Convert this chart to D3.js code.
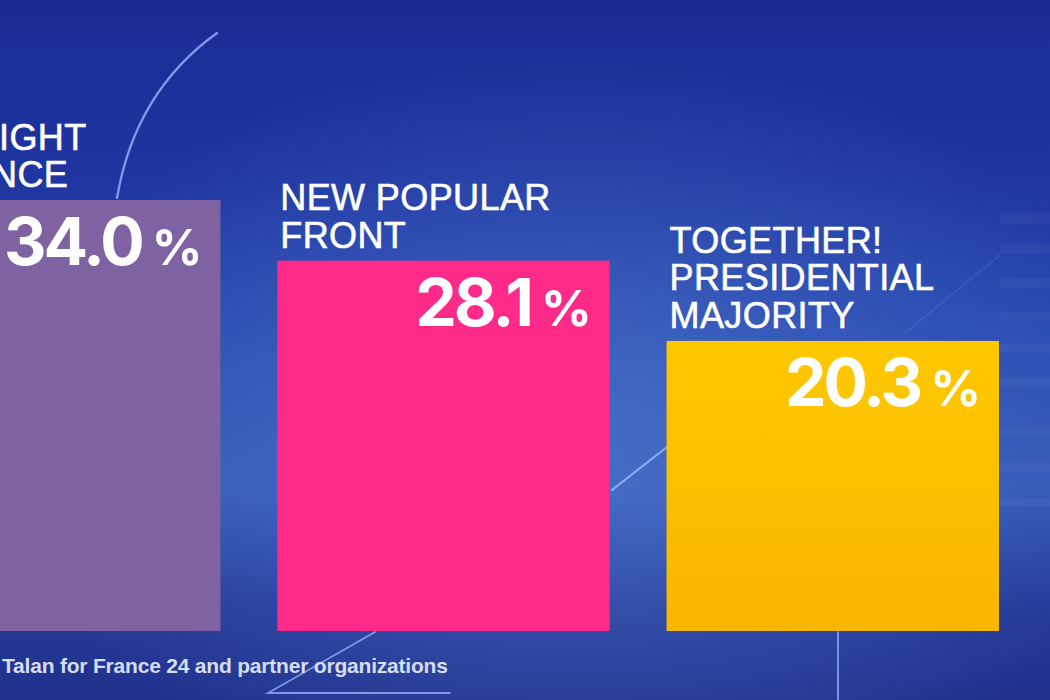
<!DOCTYPE html>
<html>
<head>
<meta charset="utf-8">
<script src="https://cdn.jsdelivr.net/npm/d3@7"></script>
<style>
  html, body { margin: 0; padding: 0; background: #1b2e96; overflow: hidden; }
  svg { display: block; }
  text { font-family: "Liberation Sans", Arial, Helvetica, sans-serif; }
</style>
</head>
<body>
<svg id="chart" width="1050" height="700"></svg>
<script>
// ---- data ----
const categories = ["FAR RIGHT ALLIANCE", "NEW POPULAR FRONT", "TOGETHER! PRESIDENTIAL MAJORITY"];
const labelLines = [["FAR RIGHT", "ALLIANCE"], ["NEW POPULAR", "FRONT"], ["TOGETHER!", "PRESIDENTIAL", "MAJORITY"]];
const values = [34.0, 28.1, 20.3];
const barColors = ["#7e62a1", "#fe2a89", "#ffc400"];
const sourceText = "Talan for France 24 and partner organizations";

// ---- layout ----
const W = 1050, H = 700;
const svg = d3.select("#chart");
const defs = svg.append("defs");

// background gradients
const bg = defs.append("linearGradient").attr("id", "bg").attr("x1", 0).attr("y1", 0).attr("x2", 0).attr("y2", 1);
[[0, "#1a2b93"], [0.25, "#1f35a0"], [0.5, "#2a4bb3"], [0.7, "#3659b8"], [0.86, "#253a98"], [1, "#21318c"]]
  .forEach(([o, c]) => bg.append("stop").attr("offset", o).attr("stop-color", c));
const glow = defs.append("radialGradient").attr("id", "glow").attr("cx", 0.55).attr("cy", 0.62).attr("r", 0.55);
glow.append("stop").attr("offset", 0).attr("stop-color", "#5580d0").attr("stop-opacity", 0.55);
glow.append("stop").attr("offset", 1).attr("stop-color", "#5580d0").attr("stop-opacity", 0);
const yel = defs.append("linearGradient").attr("id", "yel").attr("x1", 0).attr("y1", 0).attr("x2", 0).attr("y2", 1);
yel.append("stop").attr("offset", 0).attr("stop-color", "#ffc800");
yel.append("stop").attr("offset", 1).attr("stop-color", "#f8b600");

svg.append("rect").attr("width", W).attr("height", H).attr("fill", "url(#bg)");
svg.append("rect").attr("width", W).attr("height", H).attr("fill", "url(#glow)");

// faint stair stripes on the right
const stripes = [[212, 12], [244, 10], [278, 10], [312, 9], [344, 9], [378, 9], [428, 8], [463, 8], [498, 8]];
svg.append("g").selectAll("rect").data(stripes).join("rect")
  .attr("x", 1000).attr("y", d => d[0]).attr("width", 50).attr("height", d => d[1])
  .attr("fill", "#ffffff").attr("opacity", 0.035);

// decorative lines
const deco = svg.append("g").attr("fill", "none").attr("stroke", "#9cb8ff").attr("stroke-linecap", "round");
deco.append("path").attr("d", "M217,33 Q135,92 117,198").attr("stroke-width", 2.2).attr("opacity", 0.8);
deco.append("path").attr("d", "M375,632 L268,693 L450,693").attr("stroke-width", 1.8).attr("opacity", 0.75);
deco.append("path").attr("d", "M612,490 L667,447").attr("stroke-width", 2.2).attr("opacity", 0.85);
deco.append("path").attr("d", "M838,632 L838,700").attr("stroke-width", 2).attr("opacity", 0.7);
deco.append("path").attr("d", "M905,333 L1000,255").attr("stroke-width", 1.5).attr("opacity", 0.15);

// scales
const baseline = 631;
const domainMin = -7.9;
const x = d3.scaleBand().domain(categories).range([-112, 999]).paddingInner(0.146).paddingOuter(0);
const y = d3.scaleLinear().domain([domainMin, d3.max(values)]).range([baseline, 200]);
const color = d3.scaleOrdinal().domain(categories).range(barColors);

const data = categories.map((c, i) => ({ cat: c, value: values[i], lines: labelLines[i] }));

// bars
svg.append("g").selectAll("rect").data(data).join("rect")
  .attr("x", d => x(d.cat))
  .attr("y", d => y(d.value))
  .attr("width", x.bandwidth())
  .attr("height", d => y(domainMin) - y(d.value))
  .attr("fill", (d, i) => i === 2 ? "url(#yel)" : color(d.cat));

// category labels
const lh = 37.5;
const labels = svg.append("g").selectAll("text").data(data).join("text")
  .attr("fill", "#ffffff")
  .attr("stroke", "#ffffff")
  .attr("stroke-width", 0.6)
  .attr("font-size", 36)
  .attr("letter-spacing", 0.4)
  .attr("x", d => x(d.cat) + 3);
labels.each(function(d) {
  const n = d.lines.length;
  d3.select(this).selectAll("tspan").data(d.lines).join("tspan")
    .attr("x", x(d.cat) + 3)
    .attr("y", (l, j) => y(d.value) - 13 - (n - 1 - j) * lh)
    .text(l => l);
});

// value labels
const vals = svg.append("g").selectAll("text").data(data).join("text")
  .attr("fill", "#ffffff")
  .attr("font-weight", "bold")
  .attr("text-anchor", "end")
  .style("font-family", "Inter, 'Liberation Sans', Arial, sans-serif")
  .attr("x", d => x(d.cat) + x.bandwidth() - 18)
  .attr("y", d => y(d.value) + 65);
vals.append("tspan").attr("font-size", 66).attr("letter-spacing", -3).text(d => d3.format(".1f")(d.value));
vals.append("tspan").attr("font-size", 50).attr("dx", 10).text("%");

// source
svg.append("text")
  .attr("x", 2).attr("y", 673)
  .attr("fill", "#d6def5")
  .attr("font-size", 21)
  .attr("font-weight", "bold")
  .attr("letter-spacing", -0.2)
  .text(sourceText);
</script>
</body>
</html>
